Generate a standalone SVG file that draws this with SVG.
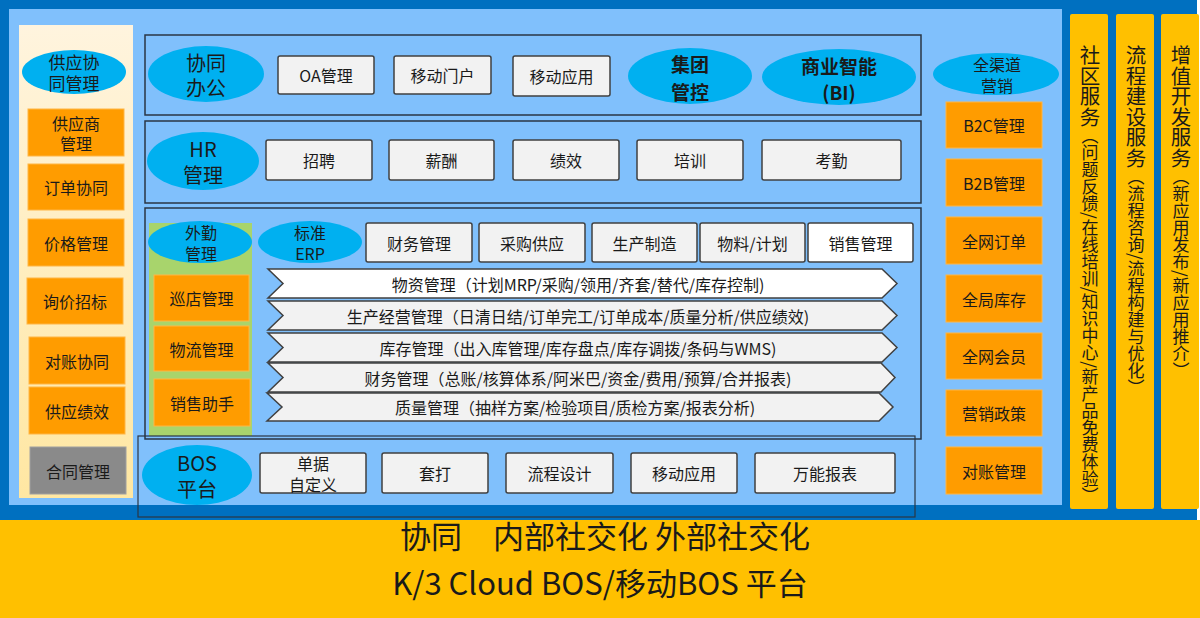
<svg xmlns="http://www.w3.org/2000/svg" width="1200" height="618" viewBox="0 0 1200 618">
<defs>
<linearGradient id="cream" x1="0" y1="0" x2="0" y2="1">
<stop offset="0" stop-color="#FFF4DE"/>
<stop offset="1" stop-color="#FFE7A2"/>
</linearGradient>
<style>
text{font-family:"Noto Sans CJK SC","Noto Sans",sans-serif;fill:#1a1a1a;font-size:16px;text-anchor:middle;dominant-baseline:central}
.ell{fill:#00B0F0}
.box{fill:#F2F2F2;stroke:#404040;stroke-width:1.5}
.wbox{fill:#FFFFFF;stroke:#404040;stroke-width:1.5}
.org{fill:#FF9C00;stroke:#FFB545;stroke-width:1}
.gray{fill:#8A8A8A;stroke:#A0A0A0;stroke-width:1}
.sec{fill:none;stroke:#2A3644;stroke-width:1.5}
.bar{fill:#F2F2F2;stroke:#404040;stroke-width:1.5}
.big{font-size:20px}
.bold{font-size:19px;font-weight:bold}
.yel{fill:#FFC000}
.vt{writing-mode:vertical-rl;text-anchor:start;dominant-baseline:central;font-size:20.5px}
.vs{font-size:17px}
.foot{font-size:31px;dominant-baseline:alphabetic}
</style>
</defs>
<rect x="0" y="0" width="1200" height="618" fill="#FFFFFF"/>
<rect x="0" y="0" width="1197" height="520" fill="#0070C0"/>
<rect x="9" y="9" width="1053" height="496" fill="#80C0FC"/>
<rect x="0" y="520" width="1200" height="98" class="yel"/>

<g id="supply">
<rect x="19" y="25" width="114" height="473" fill="url(#cream)"/>
<ellipse class="ell" cx="74" cy="72" rx="52" ry="22"/>
<text style="font-size:17px"><tspan x="74" y="61">供应协</tspan><tspan x="74" y="82">同管理</tspan></text>
<rect class="org" x="28" y="109" width="96" height="47"/>
<text><tspan x="76" y="123">供应商</tspan><tspan x="76" y="143">管理</tspan></text>
<rect class="org" x="28" y="164" width="96" height="46"/>
<text x="76" y="187">订单协同</text>
<rect class="org" x="28" y="219" width="96" height="47"/>
<text x="76" y="242.5">价格管理</text>
<rect class="org" x="27" y="278" width="96" height="46"/>
<text x="75" y="301">询价招标</text>
<rect class="org" x="29" y="337" width="96" height="47"/>
<text x="77" y="360.5">对账协同</text>
<rect class="org" x="29" y="387" width="96" height="47"/>
<text x="77" y="410.5">供应绩效</text>
<rect class="gray" x="30" y="447" width="96" height="47"/>
<text x="78" y="470.5">合同管理</text>
</g>

<g id="oa">
<rect class="sec" x="145" y="35" width="776" height="80"/>
<ellipse class="ell" cx="206" cy="74" rx="58" ry="28"/>
<text class="big"><tspan x="206" y="62">协同</tspan><tspan x="206" y="87">办公</tspan></text>
<rect class="box" x="278" y="56" width="96" height="38" rx="2"/>
<text x="326" y="75">OA管理</text>
<rect class="box" x="394" y="56" width="97" height="38" rx="2"/>
<text x="442.5" y="75">移动门户</text>
<rect class="box" x="513" y="56" width="97" height="40" rx="2"/>
<text x="561.5" y="76">移动应用</text>
<ellipse class="ell" cx="690" cy="76" rx="62" ry="28"/>
<text class="bold"><tspan x="690" y="63">集团</tspan><tspan x="690" y="91">管控</tspan></text>
<ellipse class="ell" cx="839" cy="77" rx="77" ry="28"/>
<text class="bold"><tspan x="839" y="65">商业智能</tspan><tspan x="839" y="91">(BI)</tspan></text>
</g>

<g id="hr">
<rect class="sec" x="145" y="121" width="776" height="82"/>
<ellipse class="ell" cx="203" cy="161" rx="56" ry="29"/>
<text class="big"><tspan x="203" y="148">HR</tspan><tspan x="203" y="174">管理</tspan></text>
<rect class="box" x="266" y="140" width="106" height="40" rx="2"/>
<text x="319" y="160">招聘</text>
<rect class="box" x="389" y="140" width="105" height="40" rx="2"/>
<text x="441.5" y="160">薪酬</text>
<rect class="box" x="513" y="140" width="106" height="40" rx="2"/>
<text x="566" y="160">绩效</text>
<rect class="box" x="637" y="140" width="106" height="40" rx="2"/>
<text x="690" y="160">培训</text>
<rect class="box" x="762" y="140" width="139" height="40" rx="2"/>
<text x="831.5" y="160">考勤</text>
</g>

<g id="erp">
<rect class="sec" x="145" y="208" width="776" height="231"/>
<rect x="149" y="223" width="103" height="213" fill="#A8D46C"/>
<ellipse class="ell" cx="200" cy="242" rx="52" ry="21"/>
<text><tspan x="201" y="232">外勤</tspan><tspan x="201" y="253">管理</tspan></text>
<ellipse class="ell" cx="310" cy="242" rx="52" ry="21"/>
<text><tspan x="310" y="232">标准</tspan><tspan x="310" y="253">ERP</tspan></text>
<rect class="org" x="154" y="275" width="95" height="46"/>
<text x="201.5" y="298">巡店管理</text>
<rect class="org" x="154" y="326" width="95" height="45"/>
<text x="201.5" y="348.5">物流管理</text>
<rect class="org" x="154" y="379" width="96" height="47"/>
<text x="202" y="402.5">销售助手</text>
<rect class="box" x="366" y="223" width="106" height="39" rx="2"/>
<text x="419" y="242.5">财务管理</text>
<rect class="box" x="479" y="223" width="106" height="39" rx="2"/>
<text x="532" y="242.5">采购供应</text>
<rect class="box" x="592" y="223" width="105" height="39" rx="2"/>
<text x="644.5" y="242.5">生产制造</text>
<rect class="box" x="700" y="223" width="105" height="39" rx="2"/>
<text x="752.5" y="242.5">物料/计划</text>
<rect class="wbox" x="808" y="223" width="105" height="39" rx="2"/>
<text x="860.5" y="242.5">销售管理</text>
<path class="bar" style="fill:#FFFFFF" d="M268,269 L882,269 L897,283.5 L882,298 L268,298 L283,283.5 Z"/>
<text x="578" y="283.5">物资管理（计划MRP/采购/领用/齐套/替代/库存控制)</text>
<path class="bar" d="M268,301 L882,301 L897,315.5 L882,330 L268,330 L283,315.5 Z"/>
<text x="578" y="315.5">生产经营管理（日清日结/订单完工/订单成本/质量分析/供应绩效)</text>
<path class="bar" d="M268,333 L882,333 L897,347.5 L882,362 L268,362 L283,347.5 Z"/>
<text x="578" y="347.5">库存管理（出入库管理/库存盘点/库存调拨/条码与WMS)</text>
<path class="bar" d="M268,363 L881,363 L895,377.5 L881,392 L268,392 L283,377.5 Z"/>
<text x="578" y="377.5">财务管理（总账/核算体系/阿米巴/资金/费用/预算/合并报表)</text>
<path class="bar" d="M267,393 L879,393 L893,407 L879,421 L267,421 L282,407 Z"/>
<text x="575" y="407">质量管理（抽样方案/检验项目/质检方案/报表分析)</text>
</g>

<g id="bos">
<rect class="sec" x="138" y="436" width="777" height="81" style="stroke-width:1.2"/>
<ellipse class="ell" cx="197" cy="475" rx="55" ry="30"/>
<text class="big"><tspan x="197" y="462">BOS</tspan><tspan x="197" y="488">平台</tspan></text>
<rect class="box" x="260" y="453" width="106" height="40" rx="2"/>
<text><tspan x="313" y="463">单据</tspan><tspan x="313" y="484">自定义</tspan></text>
<rect class="box" x="382" y="453" width="106" height="40" rx="2"/>
<text x="435" y="473">套打</text>
<rect class="box" x="506" y="453" width="107" height="40" rx="2"/>
<text x="559.5" y="473">流程设计</text>
<rect class="box" x="631" y="453" width="106" height="40" rx="2"/>
<text x="684" y="473">移动应用</text>
<rect class="box" x="755" y="453" width="140" height="40" rx="2"/>
<text x="825" y="473">万能报表</text>
</g>

<g id="channel">
<ellipse class="ell" cx="996" cy="74" rx="63" ry="21"/>
<text><tspan x="997" y="64">全渠道</tspan><tspan x="997" y="85">营销</tspan></text>
<rect class="org" x="946" y="102" width="96" height="46"/>
<text x="994" y="125">B2C管理</text>
<rect class="org" x="946" y="159" width="96" height="47"/>
<text x="994" y="182.5">B2B管理</text>
<rect class="org" x="946" y="217" width="96" height="47"/>
<text x="994" y="240.5">全网订单</text>
<rect class="org" x="946" y="275" width="96" height="47"/>
<text x="994" y="298.5">全局库存</text>
<rect class="org" x="946" y="333" width="96" height="46"/>
<text x="994" y="356">全网会员</text>
<rect class="org" x="946" y="390" width="96" height="46"/>
<text x="994" y="413">营销政策</text>
<rect class="org" x="946" y="447" width="96" height="47"/>
<text x="994" y="470.5">对账管理</text>
</g>

<g id="service1">
<rect class="yel" x="1070" y="14" width="38" height="495" rx="2"/>
<text class="vt" x="1090" y="45">社区服务<tspan class="vs">（问题反馈/在线培训/知识中心/新产品免费体验）</tspan></text>
</g>
<g id="service2">
<rect class="yel" x="1116" y="14" width="38" height="495" rx="2"/>
<text class="vt" x="1136" y="45">流程建设服务<tspan class="vs">（流程咨询/流程构建与优化）</tspan></text>
</g>
<g id="service3">
<rect class="yel" x="1161" y="14" width="38" height="495" rx="2"/>
<text class="vt" x="1181" y="45">增值开发服务<tspan class="vs">（新应用发布/新应用推介）</tspan></text>
</g>

<g id="platform">
<text class="foot" x="605" y="548">协同　内部社交化 外部社交化</text>
<text class="foot" x="600" y="595">K/3 Cloud BOS/移动BOS 平台</text>
</g>
<g id="connectors"></g>
</svg>
